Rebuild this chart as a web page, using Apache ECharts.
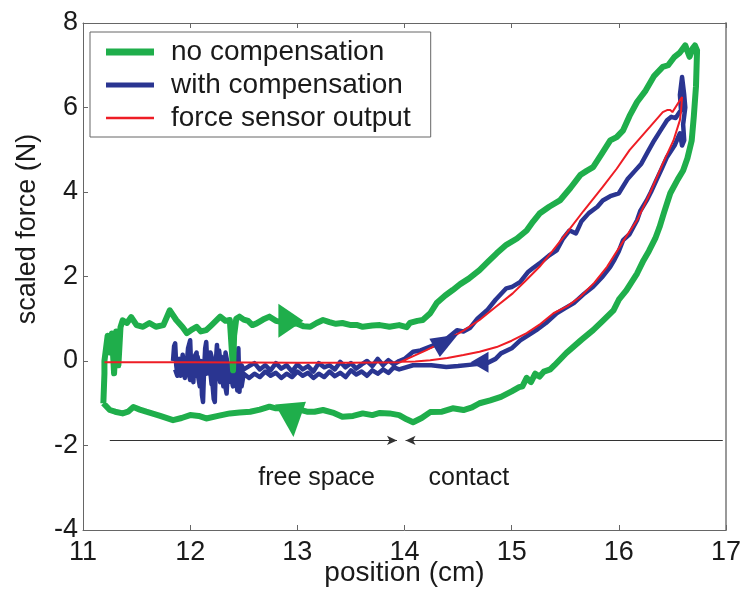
<!DOCTYPE html>
<html>
<head>
<meta charset="utf-8">
<script src="https://cdn.jsdelivr.net/npm/echarts@6/dist/echarts.min.js"></script>
<style>
html,body{margin:0;padding:0;background:#fff;}
#chart{width:751px;height:604px;}
</style>
</head>
<body>
<div id="chart"></div>
<script>
// ---------- data (position cm, scaled force N) ----------
var xTicks = [11, 12, 13, 14, 15, 16, 17];
var yTicks = [-4, -2, 0, 2, 4, 6, 8];

var noCompensation = [
  [11.19,-1.0],[11.2,-0.3],[11.2,0.0],[11.23,0.6],[11.25,0.2],[11.27,0.65],[11.29,-0.29],[11.31,0.7],[11.33,-0.1],[11.35,0.8],
  [11.37,0.96],[11.41,0.9],[11.45,1.04],[11.5,0.85],[11.56,0.81],[11.62,0.9],[11.68,0.81],[11.75,0.85],[11.81,1.2],[11.87,0.97],
  [11.93,0.8],[11.97,0.66],[12.02,0.75],[12.06,0.81],[12.1,0.7],[12.15,0.73],[12.2,0.85],[12.28,1.05],[12.33,0.95],[12.37,0.97],
  [12.39,0.2],[12.4,-0.22],[12.41,0.6],[12.43,1.0],[12.46,1.05],[12.5,0.98],[12.54,0.95],[12.58,0.85],[12.62,0.89],[12.68,0.98],
  [12.74,1.05],[12.8,0.95],[12.86,0.92],[12.93,0.9],[13.0,0.88],[13.06,0.82],[13.12,0.81],[13.18,0.9],[13.24,0.97],[13.3,0.92],
  [13.36,0.88],[13.42,0.9],[13.5,0.85],[13.56,0.85],[13.61,0.81],[13.7,0.84],[13.77,0.85],[13.86,0.81],[13.95,0.85],[14.02,0.8],
  [14.05,0.9],[14.12,0.95],[14.17,0.97],[14.24,1.13],[14.3,1.37],[14.38,1.55],[14.45,1.68],[14.52,1.82],[14.6,1.95],[14.7,2.15],
  [14.78,2.35],[14.86,2.55],[14.95,2.75],[15.05,2.9],[15.14,3.09],[15.2,3.3],[15.26,3.49],[15.35,3.65],[15.45,3.8],[15.55,4.1],
  [15.64,4.4],[15.7,4.5],[15.76,4.59],[15.84,4.9],[15.92,5.22],[15.98,5.3],[16.04,5.46],[16.1,5.8],[16.17,6.13],[16.25,6.4],
  [16.33,6.75],[16.41,6.96],[16.46,7.0],[16.52,7.2],[16.57,7.3],[16.62,7.47],[16.66,7.2],[16.69,7.4],[16.71,7.47],[16.73,7.35],
  [16.72,6.5],[16.7,5.8],[16.68,5.22],[16.64,4.8],[16.6,4.51],[16.55,4.3],[16.48,3.97],[16.42,3.5],[16.38,3.17],[16.34,2.9],
  [16.28,2.6],[16.23,2.38],[16.17,2.07],[16.07,1.67],[16.0,1.45],[15.95,1.2],[15.85,0.95],[15.76,0.73],[15.65,0.5],[15.51,0.19],
  [15.4,-0.1],[15.36,-0.2],[15.3,-0.25],[15.26,-0.37],[15.22,-0.3],[15.18,-0.5],[15.14,-0.4],[15.1,-0.6],[15.07,-0.62],[15.0,-0.72],
  [14.9,-0.85],[14.8,-0.93],[14.7,-1.0],[14.63,-1.1],[14.55,-1.16],[14.45,-1.12],[14.35,-1.2],[14.24,-1.21],[14.16,-1.35],[14.08,-1.45],
  [14.02,-1.38],[13.95,-1.28],[13.86,-1.24],[13.77,-1.23],[13.7,-1.28],[13.61,-1.24],[13.52,-1.3],[13.42,-1.32],[13.33,-1.22],[13.24,-1.16],
  [13.16,-1.2],[13.09,-1.2],[13.02,-1.15],[12.95,-1.25],[12.88,-1.12],[12.8,-1.12],[12.74,-1.08],[12.65,-1.15],[12.56,-1.2],[12.46,-1.22],
  [12.37,-1.24],[12.26,-1.3],[12.15,-1.36],[12.08,-1.3],[12.0,-1.28],[11.92,-1.35],[11.84,-1.4],[11.72,-1.3],[11.59,-1.2],[11.53,-1.15],
  [11.47,-1.09],[11.42,-1.2],[11.37,-1.24],[11.3,-1.2],[11.25,-1.16],[11.19,-1.0]
];

var withCompensation = [
  [11.84,0.0],[11.85,0.35],[11.86,0.42],[11.87,-0.1],[11.88,-0.3],[11.9,0.05],[11.91,-0.35],[11.93,0.15],[11.95,-0.4],[11.97,0.0],
  [11.98,0.3],[12.0,0.49],[12.01,-0.2],[12.03,-0.5],[12.04,0.1],[12.06,0.2],[12.07,-0.3],[12.09,-0.6],[12.1,0.0],[12.11,-0.8],
  [12.12,-0.97],[12.13,-0.2],[12.14,0.3],[12.15,0.45],[12.16,-0.1],[12.18,-0.3],[12.19,0.2],[12.2,0.1],[12.21,-0.6],[12.22,-0.9],
  [12.23,-0.97],[12.24,0.0],[12.25,0.38],[12.26,-0.2],[12.28,-0.5],[12.29,0.1],[12.31,0.0],[12.32,-0.5],[12.34,-0.77],[12.35,-0.3],
  [12.37,-0.1],[12.38,-0.4],[12.4,-0.6],[12.41,-0.1],[12.43,0.1],[12.44,-0.5],[12.45,0.3],[12.46,-0.73],[12.47,-0.3],[12.48,-0.1],
  [12.5,-0.2],[12.55,-0.12],[12.6,-0.05],[12.65,-0.2],[12.7,-0.1],[12.75,-0.22],[12.8,-0.05],[12.85,-0.18],[12.9,-0.1],[12.95,-0.25],
  [13.0,-0.08],[13.05,-0.2],[13.1,-0.12],[13.15,-0.25],[13.2,-0.05],[13.25,-0.15],[13.3,-0.1],[13.35,-0.2],[13.4,-0.02],[13.45,-0.15],
  [13.5,-0.05],[13.55,-0.18],[13.6,-0.08],[13.65,0.0],[13.7,-0.12],[13.75,0.05],[13.8,-0.1],[13.85,0.02],[13.9,-0.08],[13.95,0.0],
  [14.0,0.05],[14.08,0.22],[14.15,0.25],[14.3,0.4],[14.38,0.5],[14.49,0.73],[14.55,0.7],[14.61,0.78],[14.68,1.0],[14.77,1.2],
  [14.85,1.45],[14.95,1.72],[15.0,1.75],[15.08,1.87],[15.15,2.1],[15.2,2.2],[15.26,2.31],[15.35,2.5],[15.42,2.62],[15.48,2.9],
  [15.54,3.09],[15.6,3.02],[15.65,3.3],[15.72,3.5],[15.8,3.65],[15.85,3.8],[15.92,3.9],[16.0,3.97],[16.08,4.3],[16.15,4.5],
  [16.21,4.67],[16.27,4.95],[16.33,5.22],[16.4,5.5],[16.45,5.7],[16.49,5.78],[16.53,5.75],[16.58,5.94],[16.57,6.3],[16.59,6.72],
  [16.61,6.3],[16.62,6.0],[16.6,5.6],[16.61,5.22],[16.59,5.1],[16.57,5.39],[16.52,5.1],[16.45,4.83],[16.4,4.55],[16.35,4.28],
  [16.3,4.0],[16.26,3.8],[16.2,3.55],[16.17,3.33],[16.1,3.0],[16.04,2.86],[16.0,2.6],[15.96,2.4],[15.92,2.23],[15.85,2.0],
  [15.76,1.76],[15.68,1.6],[15.58,1.37],[15.5,1.25],[15.42,1.13],[15.32,0.9],[15.23,0.73],[15.15,0.6],[15.08,0.49],[15.0,0.3],
  [14.9,0.18],[14.85,0.05],[14.77,-0.05],[14.65,-0.08],[14.5,-0.12],[14.39,-0.14],[14.25,-0.1],[14.08,-0.1],[13.95,-0.2],[13.9,-0.15],
  [13.85,-0.28],[13.8,-0.2],[13.75,-0.3],[13.7,-0.22],[13.65,-0.35],[13.6,-0.25],[13.55,-0.32],[13.5,-0.22],[13.45,-0.38],[13.4,-0.28],
  [13.35,-0.36],[13.3,-0.25],[13.25,-0.38],[13.2,-0.3],[13.15,-0.4],[13.1,-0.28],[13.05,-0.35],[13.0,-0.25],[12.95,-0.38],[12.9,-0.3],
  [12.85,-0.4],[12.8,-0.28],[12.75,-0.35],[12.7,-0.25],[12.65,-0.38],[12.6,-0.3],[12.55,-0.4],[12.5,-0.3],[12.48,-0.6],[12.46,-0.2],
  [12.44,-0.7],[12.42,-0.3],[12.4,0.15],[12.38,-0.5],[12.36,-0.2],[12.33,0.2],[12.31,-0.6],[12.29,-0.2],[12.27,0.25],[12.25,-0.4],
  [12.22,-0.1],[12.2,-0.55],[12.17,0.2],[12.15,-0.3],[12.12,-0.1],[12.1,-0.45],[12.07,0.1],[12.05,-0.35],[12.02,-0.15],[12.0,-0.45],
  [11.97,-0.1],[11.94,-0.3],[11.91,-0.15],[11.88,-0.35],[11.86,-0.2]
];

var forceSensor = [
  [11.2,-0.03],[12.0,-0.03],[13.0,-0.04],[13.5,-0.04],[13.96,-0.03],[14.0,0.02],[14.2,0.25],[14.39,0.49],[14.55,0.72],[14.7,0.97],
  [14.85,1.28],[15.01,1.6],[15.13,1.9],[15.26,2.23],[15.38,2.6],[15.51,3.02],[15.67,3.55],[15.85,4.12],[15.98,4.55],[16.1,4.99],
  [16.2,5.28],[16.29,5.54],[16.41,5.89],[16.45,5.94],[16.48,5.94],[16.5,5.89],[16.57,6.17],[16.59,6.25],[16.58,5.9],[16.57,5.7],
  [16.51,5.22],[16.41,4.67],[16.29,3.97],[16.17,3.33],[16.07,2.95],[15.89,2.23],[15.77,1.85],[15.64,1.52],[15.52,1.3],[15.39,1.13],
  [15.27,0.88],[15.14,0.66],[15.0,0.48],[14.86,0.33],[14.7,0.22],[14.55,0.14],[14.4,0.07],[14.24,0.02],[14.1,-0.01],[13.96,-0.02]
];

// direction arrowheads: [x, y, rotate, width, height]
var greenArrows = [[12.94, 0.95, -90, 34, 25], [12.95, -1.40, 185, 31, 34]];
var blueArrows = [[14.39, 0.47, -60, 21, 27], [14.70, -0.03, 90, 21, 18]];

// region annotation
var arrowY = -1.88;
var freeSpaceSpan = [11.25, 13.93];
var contactSpan = [16.97, 14.01];
var regionLabels = [["free space", 13.18, -2.77], ["contact", 14.6, -2.77]];

var seriesNames = ["no compensation", "with compensation", "force sensor output"];
var colors = ["#1fae4b", "#2a3591", "#ee1d25"];
var legendThickness = [7, 5, 2.5];

// ---------- chart ----------
var FONT = "Liberation Sans, Arial, Helvetica, sans-serif";
var chart = echarts.init(document.getElementById('chart'), null, {renderer: 'canvas'});

function arrowMarks(list, color) {
  return list.map(function (a) {
    return {coord: [a[0], a[1]], symbol: 'triangle', symbolRotate: a[2], symbolSize: [a[3], a[4]],
            itemStyle: {color: color}, label: {show: false}};
  });
}
function barIcon(t) {
  return 'path://M0,0L48,0L48,' + t + 'L0,' + t + 'Z';
}

var option = {
  animation: false,
  backgroundColor: '#fff',
  grid: {left: 83, right: 25, top: 23, bottom: 74, containLabel: false},
  legend: {
    orient: 'vertical', left: 90, top: 32,
    padding: [6, 20, 5, 16],
    itemWidth: 48, itemHeight: 14, itemGap: 5, symbolKeepAspect: true,
    backgroundColor: '#fff', borderColor: '#666', borderWidth: 1,
    textStyle: {fontSize: 28, color: '#1a1a1a', fontFamily: FONT, padding: [0, 0, 0, 12]},
    data: seriesNames.map(function (n, i) {
      return {name: n, icon: barIcon(legendThickness[i]), itemStyle: {color: colors[i]}};
    })
  },
  xAxis: [{
    type: 'value', min: xTicks[0], max: xTicks[xTicks.length - 1], interval: 1,
    name: 'position (cm)', nameLocation: 'middle', nameGap: 29, nameMoveOverlap: false,
    nameTextStyle: {fontSize: 28, color: '#1a1a1a', fontFamily: FONT},
    axisLine: {show: true, onZero: false, lineStyle: {color: '#666', width: 1}},
    axisTick: {show: true, inside: true, length: 5, lineStyle: {color: '#666'}},
    axisLabel: {fontSize: 27, color: '#1a1a1a', fontFamily: FONT, margin: 9},
    splitLine: {show: false}
  }, {
    type: 'value', position: 'top', min: xTicks[0], max: xTicks[xTicks.length - 1], interval: 1,
    axisLine: {show: true, onZero: false, lineStyle: {color: '#666', width: 1}},
    axisTick: {show: true, inside: true, length: 5, lineStyle: {color: '#666'}},
    axisLabel: {show: false}, splitLine: {show: false}
  }],
  yAxis: [{
    type: 'value', min: yTicks[0], max: yTicks[yTicks.length - 1], interval: 2,
    axisLine: {show: true, onZero: false, lineStyle: {color: '#666', width: 1}},
    axisTick: {show: true, inside: true, length: 5, lineStyle: {color: '#666'}},
    axisLabel: {fontSize: 27, color: '#1a1a1a', fontFamily: FONT, margin: 5},
    splitLine: {show: false}
  }, {
    type: 'value', position: 'right', min: yTicks[0], max: yTicks[yTicks.length - 1], interval: 2,
    axisLine: {show: true, onZero: false, lineStyle: {color: '#999', width: 2}},
    axisTick: {show: false},
    axisLabel: {show: false}, splitLine: {show: false}
  }],
  graphic: [{
    type: 'text', x: 28, y: 229, rotation: Math.PI / 2,
    style: {text: 'scaled force (N)', fontSize: 27, fill: '#1a1a1a', fontFamily: FONT,
            textAlign: 'center', textVerticalAlign: 'middle'}
  }],
  series: [{
    name: seriesNames[1], type: 'line', data: withCompensation, z: 2,
    showSymbol: false, symbol: 'none', smooth: false,
    lineStyle: {color: colors[1], width: 4.5, join: 'round'}, itemStyle: {color: colors[1]},
    markPoint: {silent: true, animation: false, data: arrowMarks(blueArrows, colors[1])}
  }, {
    name: seriesNames[0], type: 'line', data: noCompensation, z: 3,
    showSymbol: false, symbol: 'none', smooth: false,
    lineStyle: {color: colors[0], width: 6, join: 'round'}, itemStyle: {color: colors[0]},
    markPoint: {silent: true, animation: false, data: arrowMarks(greenArrows, colors[0])}
  }, {
    name: seriesNames[2], type: 'line', data: forceSensor, z: 4,
    showSymbol: false, symbol: 'none', smooth: false,
    lineStyle: {color: colors[2], width: 2}, itemStyle: {color: colors[2]},
    markLine: {
      silent: true, animation: false,
      symbol: ['none', 'arrow'], symbolSize: [7, 10],
      lineStyle: {color: '#333', width: 1, type: 'solid'},
      label: {show: false},
      data: [
        [{coord: [freeSpaceSpan[0], arrowY]}, {coord: [freeSpaceSpan[1], arrowY]}],
        [{coord: [contactSpan[0], arrowY]}, {coord: [contactSpan[1], arrowY]}]
      ]
    },
    markPoint: {
      silent: true, animation: false,
      data: regionLabels.map(function (r) {
        return {name: r[0], coord: [r[1], r[2]], symbol: 'circle', symbolSize: 0,
                label: {show: true, position: 'inside', formatter: r[0], fontSize: 25,
                        color: '#1a1a1a', fontFamily: FONT}};
      })
    }
  }]
};
chart.setOption(option);
</script>
</body>
</html>
